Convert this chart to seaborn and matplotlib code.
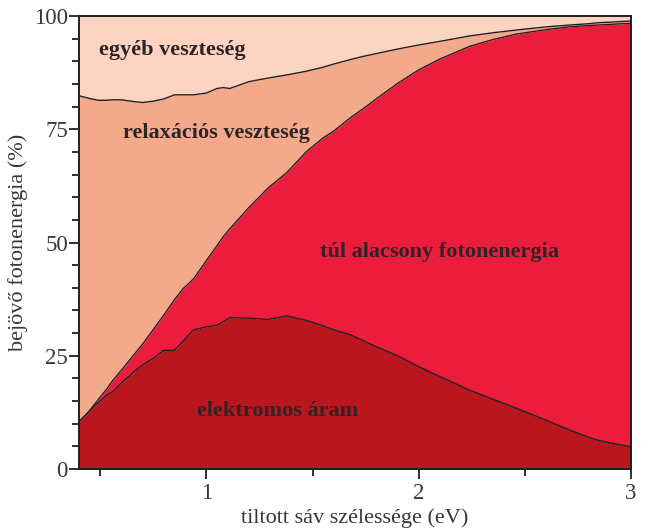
import numpy as np
import pandas as pd
import matplotlib
matplotlib.use("Agg")
import matplotlib.pyplot as plt
from matplotlib.ticker import MultipleLocator
import seaborn as sns

# ---- data ----
gap_ev = [0.40, 0.45, 0.49, 0.53, 0.56, 0.60, 0.66, 0.70, 0.75, 0.80, 0.85, 0.89,
          0.94, 1.00, 1.05, 1.08, 1.11, 1.20, 1.29, 1.38, 1.47, 1.55, 1.60, 1.68,
          1.74, 1.80, 1.90, 2.00, 2.10, 2.24, 2.35, 2.46, 2.60, 2.71, 2.80, 2.84,
          2.92, 3.00]
# cumulative boundary of "elektromos áram"
current_top = [10.4, 12.8, 14.6, 16.3, 17.1, 19.0, 21.5, 23.0, 24.4, 26.2, 26.2, 28.2,
               30.7, 31.4, 31.7, 32.5, 33.4, 33.3, 33.0, 33.8, 32.8, 31.6, 30.7, 29.6,
               28.3, 27.0, 25.0, 22.6, 20.4, 17.4, 15.4, 13.4, 10.8, 8.6, 7.0, 6.4,
               5.6, 4.9]
# cumulative boundary of "túl alacsony fotonenergia"
lowphoton_top = [10.4, 12.9, 15.3, 17.6, 19.6, 21.8, 25.3, 27.6, 30.8, 34.0, 37.4, 39.8,
                 42.0, 46.0, 49.3, 51.3, 53.0, 57.7, 62.0, 65.5, 70.0, 73.1, 74.6, 77.6,
                 79.6, 81.7, 85.1, 88.1, 90.5, 93.3, 94.8, 96.0, 97.0, 97.6, 97.9, 98.0,
                 98.2, 98.4]
# cumulative boundary of "relaxációs veszteség"
relax_top = [82.4, 81.8, 81.4, 81.4, 81.5, 81.5, 81.1, 80.9, 81.2, 81.7, 82.6, 82.6,
             82.6, 83.0, 84.0, 84.2, 84.0, 85.5, 86.3, 87.0, 87.8, 88.7, 89.4, 90.4,
             91.1, 91.7, 92.7, 93.6, 94.4, 95.6, 96.3, 96.9, 97.6, 98.0, 98.3, 98.5,
             98.7, 98.9]
total = 100

labels = ["elektromos áram", "túl alacsony fotonenergia",
          "relaxációs veszteség", "egyéb veszteség"]
colors = ["#B9161E", "#EC1C3C", "#F5A98B", "#FBD4C1"]

xticks = [1, 2, 3]
yticks = [0, 25, 50, 75, 100]
xlabel = "tiltott sáv szélessége (eV)"
ylabel = "bejövő fotonenergia (%)"

# ---- style ----
sns.set_theme(style="ticks")
plt.rcParams["font.family"] = ["Liberation Serif", "DejaVu Serif"]
ink = "#231F20"

fig = plt.figure(figsize=(6.48, 5.28), dpi=100)
ax = fig.add_axes([79/648, 1-469/528, (631-79)/648, (469-16)/528])

x = np.array(gap_ev)
bounds = [np.zeros_like(x), np.array(current_top), np.array(lowphoton_top),
          np.array(relax_top), np.full_like(x, total)]
for i, c in enumerate(colors):
    ax.fill_between(x, bounds[i], bounds[i+1], color=c, linewidth=0, zorder=1)

df = pd.DataFrame({
    "x": np.concatenate([x, x, x]),
    "y": np.concatenate([current_top, lowphoton_top, relax_top]),
    "b": np.repeat(["a", "b", "c"], len(x)),
})
sns.lineplot(data=df, x="x", y="y", units="b", estimator=None, sort=False,
             color=ink, linewidth=1.0, ax=ax, legend=False, zorder=3)

ax.set_xlim(gap_ev[0], 3.0)
ax.set_ylim(0, 100)
ax.set_xticks(xticks)
ax.set_xticklabels([str(t) for t in xticks])
ax.set_yticks(yticks)
ax.set_yticklabels([str(t) for t in yticks])
ax.xaxis.set_minor_locator(MultipleLocator(0.5))
ax.yaxis.set_minor_locator(MultipleLocator(5))
ax.tick_params(axis="both", which="major", direction="out", length=7, width=1.3,
               color=ink, labelcolor="#3a3536", labelsize=16.5, pad=3)
ax.tick_params(axis="both", which="minor", direction="out", length=5, width=1.3,
               color=ink)
ax.tick_params(axis="y", which="major", pad=1)
for s in ax.spines.values():
    s.set_color(ink)
    s.set_linewidth(1.4)
    s.set_zorder(5)

ax.set_xlabel(xlabel, fontsize=16, color="#3a3536", labelpad=3)
ax.set_ylabel(ylabel, fontsize=16, color="#3a3536", labelpad=4)

txt = dict(fontsize=16, color="#2e2426", ha="center", va="center", fontweight="bold", zorder=6)
ax.text(0.84, 92.5, labels[3], **txt)
ax.text(1.047, 74.2, labels[2], **txt)
ax.text(2.10, 47.9, labels[1], **txt)
ax.text(1.336, 12.8, labels[0], **txt)

fig.savefig("out.png", dpi=100)
